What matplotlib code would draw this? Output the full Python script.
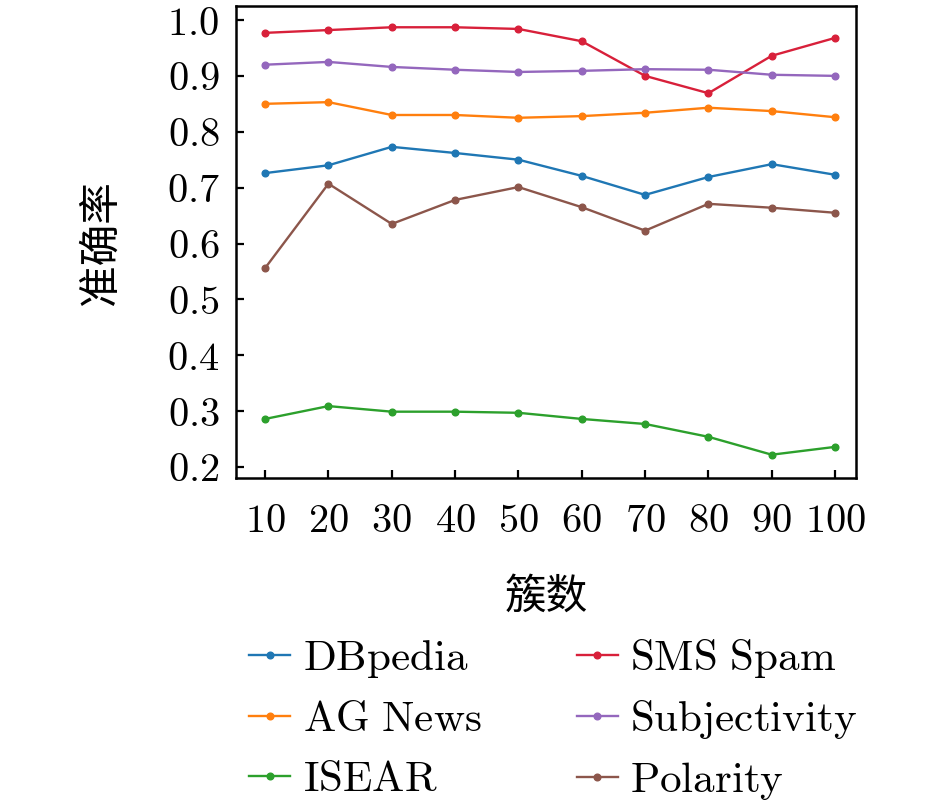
import matplotlib
matplotlib.use("Agg")
import matplotlib.pyplot as plt
from matplotlib.ticker import FuncFormatter

plt.rcParams['mathtext.fontset'] = 'cm'
plt.rcParams['font.family'] = ['DejaVu Serif']

clusters = [10, 20, 30, 40, 50, 60, 70, 80, 90, 100]
dbpedia = [0.726, 0.740, 0.773, 0.762, 0.750, 0.721, 0.687, 0.719, 0.742, 0.723]
sms_spam = [0.977, 0.982, 0.987, 0.987, 0.984, 0.962, 0.900, 0.869, 0.936, 0.968]
ag_news = [0.850, 0.853, 0.830, 0.830, 0.825, 0.828, 0.834, 0.843, 0.837, 0.826]
subjectivity = [0.920, 0.925, 0.916, 0.911, 0.907, 0.909, 0.912, 0.911, 0.902, 0.900]
isear = [0.286, 0.309, 0.299, 0.299, 0.297, 0.286, 0.277, 0.254, 0.222, 0.236]
polarity = [0.556, 0.707, 0.635, 0.678, 0.701, 0.665, 0.623, 0.671, 0.664, 0.655]
yticks = [0.2, 0.3, 0.4, 0.5, 0.6, 0.7, 0.8, 0.9, 1.0]

series = [
    (r'$\mathrm{DBpedia}$', dbpedia, '#1f77b4'),
    (r'$\mathrm{AG\ News}$', ag_news, '#ff7f0e'),
    (r'$\mathrm{ISEAR}$', isear, '#2ca02c'),
    (r'$\mathrm{SMS\ Spam}$', sms_spam, '#d8203a'),
    (r'$\mathrm{Subjectivity}$', subjectivity, '#9467bd'),
    (r'$\mathrm{Polarity}$', polarity, '#8c564b'),
]

fig = plt.figure(figsize=(9.45, 8.05), dpi=100)
ax = fig.add_axes([0.2497, 0.406, 0.6561, 0.5865])
for label, vals, color in series:
    ax.plot(clusters, vals, color=color, lw=1.7, marker='o', ms=4.8, label=label)

ax.set_xlim(5.4, 103.3)
ax.set_ylim(0.18, 1.025)
ax.set_xticks(clusters)
ax.set_yticks(yticks)
ax.xaxis.set_major_formatter(FuncFormatter(lambda v, p: r'$%d$' % int(round(v))))
ax.yaxis.set_major_formatter(FuncFormatter(lambda v, p: r'$%.1f$' % v))
ax.tick_params(direction='in', length=6, width=1.6, labelsize=29)
ax.tick_params(axis='x', pad=18)
ax.tick_params(axis='y', pad=12)
for s in ax.spines.values():
    s.set_linewidth(1.8)

ax.set_xlabel('簇数', fontsize=30, family=['Noto Sans CJK SC', 'DejaVu Sans'], labelpad=26)
ax.set_ylabel('准确率', fontsize=30, family=['Noto Sans CJK SC', 'DejaVu Sans'], labelpad=32)

ax.legend(loc='upper center', bbox_to_anchor=(0.512, -0.30), ncol=2, frameon=False,
          fontsize=31, handlelength=0.95, handletextpad=0.3, columnspacing=2.2,
          labelspacing=0.42, borderaxespad=0)

fig.savefig('out.png', dpi=100, facecolor='white')
